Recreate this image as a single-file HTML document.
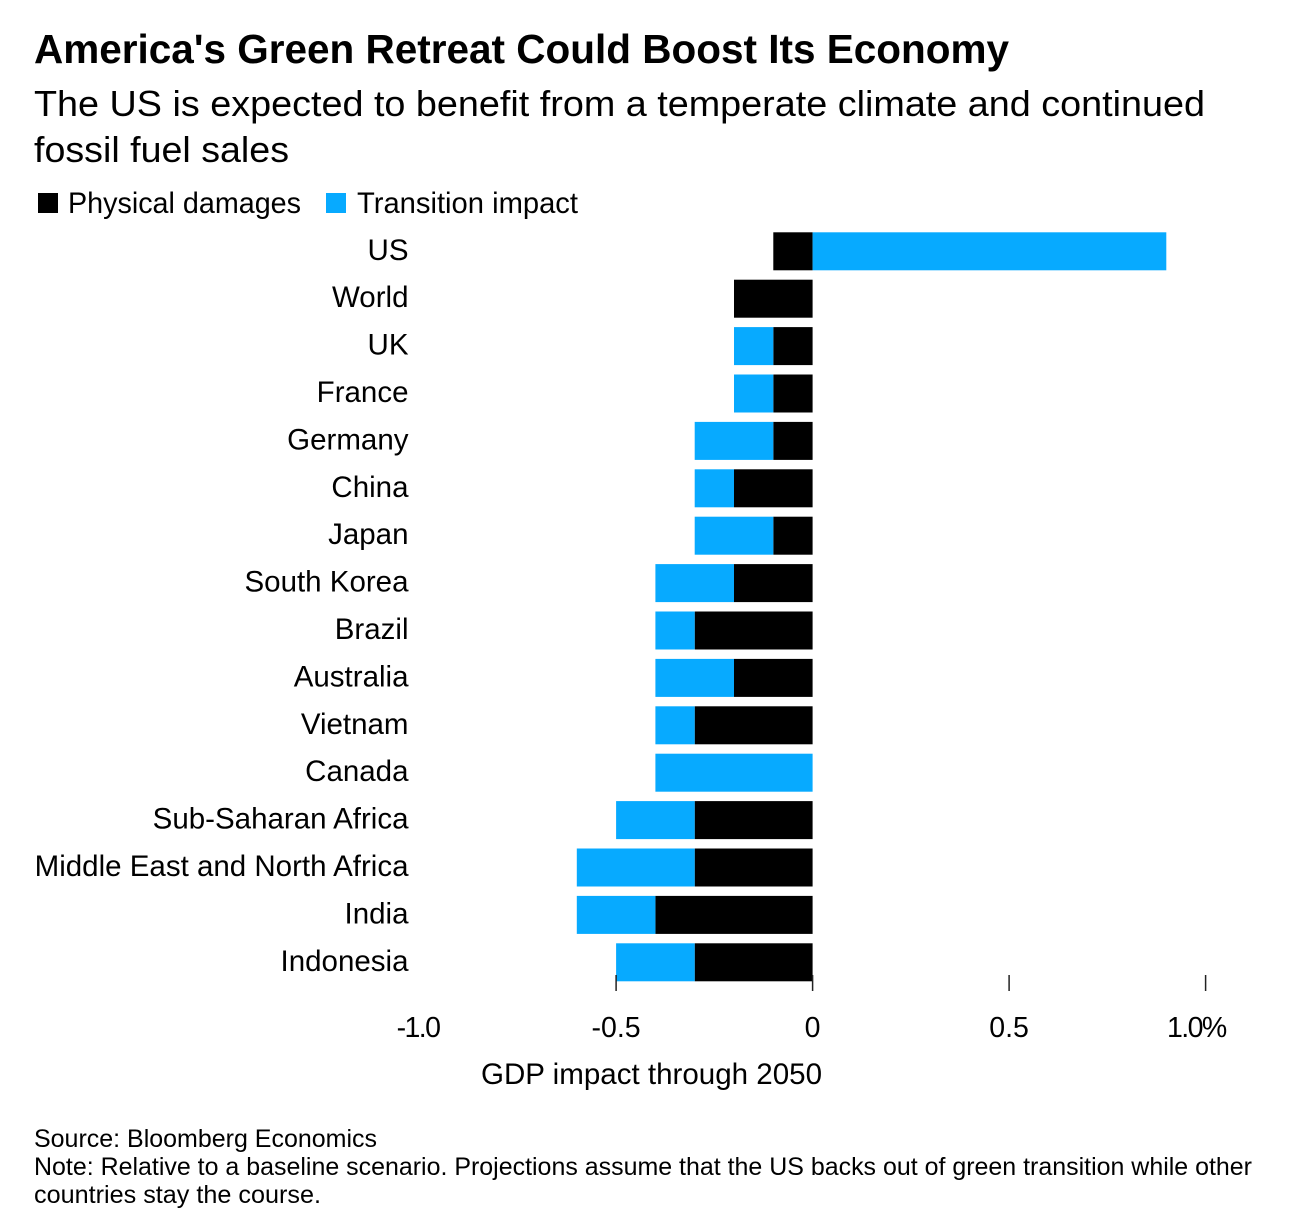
<!DOCTYPE html>
<html lang="en">
<head>
<meta charset="utf-8">
<title>America's Green Retreat Could Boost Its Economy</title>
<style>
html,body{margin:0;padding:0;background:#fff;width:1304px;height:1232px;overflow:hidden}
svg{display:block}
text{font-family:"Liberation Sans",Arial,sans-serif;fill:#000}
</style>
</head>
<body>
<svg id="chart" xmlns="http://www.w3.org/2000/svg" width="1304" height="1232" viewBox="0 0 1304 1232">
  <rect x="0" y="0" width="1304" height="1232" fill="#fff"/>
  <text x="34" y="63" font-size="41" font-weight="700" textLength="975" lengthAdjust="spacingAndGlyphs">America's Green Retreat Could Boost Its Economy</text>
  <text x="34" y="116" font-size="36.5" textLength="1171" lengthAdjust="spacingAndGlyphs">The US is expected to benefit from a temperate climate and continued</text>
  <text x="34" y="162" font-size="36.5" textLength="255" lengthAdjust="spacingAndGlyphs">fossil fuel sales</text>

  <g>
    <rect x="38" y="193" width="20" height="20" fill="#000"/>
    <text x="68" y="213" font-size="29.5" textLength="233" lengthAdjust="spacingAndGlyphs">Physical damages</text>
    <rect x="326" y="193" width="20" height="20" fill="#07aaff"/>
    <text x="357" y="213" font-size="29.5" textLength="221" lengthAdjust="spacingAndGlyphs">Transition impact</text>
  </g>

  <g id="bars"></g>
  <g id="categories"></g>
  <g id="axis"></g>

  <text x="481" y="1084" font-size="29.5" textLength="341" lengthAdjust="spacingAndGlyphs">GDP impact through 2050</text>

  <text x="34" y="1147" font-size="25" textLength="343" lengthAdjust="spacingAndGlyphs">Source: Bloomberg Economics</text>
  <text x="34" y="1175" font-size="25" textLength="1218" lengthAdjust="spacingAndGlyphs">Note: Relative to a baseline scenario. Projections assume that the US backs out of green transition while other</text>
  <text x="34" y="1203" font-size="25" textLength="287" lengthAdjust="spacingAndGlyphs">countries stay the course.</text>
</svg>
<script>
const categories = ["US","World","UK","France","Germany","China","Japan","South Korea","Brazil","Australia","Vietnam","Canada","Sub-Saharan Africa","Middle East and North Africa","India","Indonesia"];
const physicalDamages = [-0.1,-0.2,-0.1,-0.1,-0.1,-0.2,-0.1,-0.2,-0.3,-0.2,-0.3,0,-0.3,-0.3,-0.4,-0.3];
const transitionImpact = [0.9,0,-0.1,-0.1,-0.2,-0.1,-0.2,-0.2,-0.1,-0.2,-0.1,-0.4,-0.2,-0.3,-0.2,-0.2];
const tickValues = [-1,-0.5,0,0.5,1];
const tickLabels = ["-1.0","-0.5","0","0.5","1.0%"];

const NS = "http://www.w3.org/2000/svg";
const xScale = v => 812.6 + v * 393;
const rowTop = i => 232.3 + i * 47.4;
const BAR_HEIGHT = 38;
const PHYSICAL_COLOR = "#000";
const TRANSITION_COLOR = "#07aaff";

function svgEl(tag, attrs) {
  const el = document.createElementNS(NS, tag);
  for (const k in attrs) el.setAttribute(k, attrs[k]);
  return el;
}
const slug = s => s.toLowerCase().replace(/[^a-z0-9]+/g, "-");

const barsG = document.getElementById("bars");
const catG = document.getElementById("categories");
const axisG = document.getElementById("axis");

categories.forEach((name, i) => {
  let negBase = 0, posBase = 0;
  [[physicalDamages[i], PHYSICAL_COLOR, "physical"], [transitionImpact[i], TRANSITION_COLOR, "transition"]].forEach(([v, color, key]) => {
    if (v === 0) return;
    const start = v < 0 ? negBase : posBase;
    const end = start + v;
    if (v < 0) negBase = end; else posBase = end;
    const x0 = xScale(Math.min(start, end));
    const x1 = xScale(Math.max(start, end));
    const r = svgEl("rect", {x: x0, y: rowTop(i), width: x1 - x0, height: BAR_HEIGHT, fill: color});
    
    
    barsG.appendChild(r);
  });
  const t = svgEl("text", {x: 408.5, y: rowTop(i) + 27.5, "font-size": 29.5, "text-anchor": "end"});
  
  
  t.textContent = name;
  catG.appendChild(t);
});

tickValues.forEach((v, i) => {
  const x = xScale(v);
  if (v !== -1) {
    const l = svgEl("line", {x1: x, x2: x, y1: 975, y2: 991, stroke: "#222", "stroke-width": 1.5});
    
    
    axisG.appendChild(l);
  }
  const tight = tickLabels[i].indexOf("1") >= 0;
  const t = svgEl("text", {x: x, y: 1037, "font-size": 28.5, "text-anchor": "middle"});
  
  
  t.textContent = tickLabels[i];
  if (tight) t.setAttribute('letter-spacing', '-1.6');
  if (i === 4) { t.setAttribute('text-anchor', 'start'); t.setAttribute('x', 1167); }
  if (i === 0) t.setAttribute('x', 418);
  axisG.appendChild(t);
});
</script>
</body>
</html>
